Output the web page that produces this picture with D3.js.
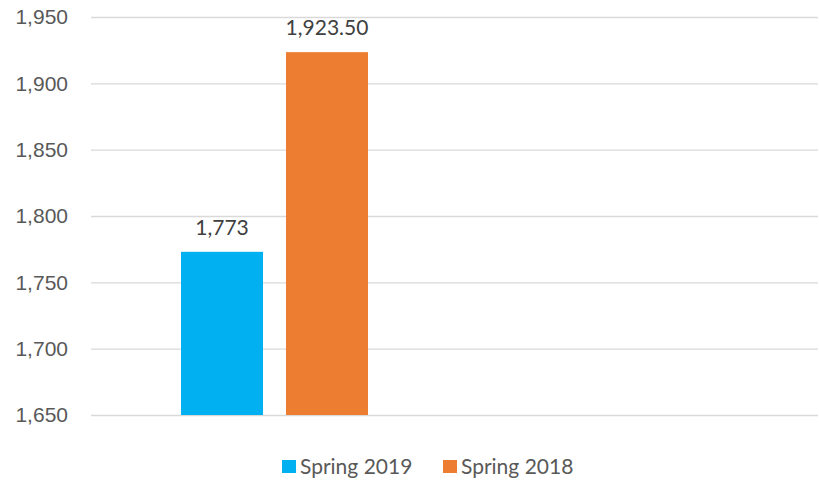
<!DOCTYPE html>
<html>
<head>
<meta charset="utf-8">
<script src="https://cdn.jsdelivr.net/npm/d3@7.9.0/dist/d3.min.js"></script>
<style>
  html, body { margin: 0; padding: 0; background: #fff; }
  svg { display: block; font-family: Lato, "Open Sans", sans-serif; }
</style>
</head>
<body>
<svg id="chart" width="819" height="484"></svg>
<script>
// ---- data ----
const categories = ['Term', ''];             // second slot is empty in the original
const seriesNames = ['Spring 2019', 'Spring 2018'];
const seriesColors = ['#00B0F0', '#ED7D31'];
const spring2019 = [1773, null];
const spring2018 = [1923.5, null];
const labelText = ['1,773', '1,923.50'];
const yTicks = [1650, 1700, 1750, 1800, 1850, 1900, 1950];

const width = 819, height = 484;
const margin = { top: 17, right: 1, bottom: 69, left: 91 };
const svg = d3.select('#chart');

const x0 = d3.scaleBand()
  .domain(categories)
  .range([margin.left, width - margin.right])
  .padding(0);

// bars group: 82px bars with a 23px gap, starting 90px into the band
const x1 = d3.scaleBand()
  .domain(seriesNames)
  .range([90, 90 + 187])
  .paddingInner(0.219)
  .paddingOuter(0);

const y = d3.scaleLinear()
  .domain([1650, 1950])
  .range([height - margin.bottom, margin.top]);

// gridlines
svg.append('g')
  .attr('class', 'grid')
  .attr('transform', `translate(${margin.left},0)`)
  .call(d3.axisLeft(y).tickValues(yTicks).tickFormat('').tickSize(-(width - margin.left - margin.right)))
  .call(g => g.select('.domain').remove())
  .call(g => g.selectAll('line').attr('stroke', '#d9d9d9').attr('stroke-width', 1.3));

// y labels
svg.append('g')
  .attr('class', 'y-axis')
  .attr('transform', `translate(${margin.left},0)`)
  .call(d3.axisLeft(y).tickValues(yTicks).tickFormat(d3.format(',')).tickSize(0).tickPadding(23))
  .call(g => g.select('.domain').remove())
  .call(g => g.selectAll('text')
    .attr('fill', '#595959')
    .style('font-size', '21px'));

// bars
const rows = categories.map((c, i) => ({
  cat: c,
  values: [
    { name: seriesNames[0], value: spring2019[i], label: labelText[0] },
    { name: seriesNames[1], value: spring2018[i], label: labelText[1] },
  ].filter(d => d.value != null),
}));

const color = d3.scaleOrdinal().domain(seriesNames).range(seriesColors);

const groups = svg.append('g').attr('class', 'bars')
  .selectAll('g')
  .data(rows)
  .join('g')
  .attr('transform', d => `translate(${x0(d.cat)},0)`);

groups.selectAll('rect')
  .data(d => d.values)
  .join('rect')
  .attr('x', d => x1(d.name))
  .attr('width', x1.bandwidth())
  .attr('y', d => y(d.value))
  .attr('height', d => y(1650) - y(d.value))
  .attr('fill', d => color(d.name));

groups.selectAll('text')
  .data(d => d.values)
  .join('text')
  .attr('x', d => x1(d.name) + x1.bandwidth() / 2)
  .attr('y', d => y(d.value) - 17)
  .attr('text-anchor', 'middle')
  .attr('fill', '#404040')
  .style('font-size', '21px')
  .text(d => d.label);

// legend
const legend = svg.append('g').attr('class', 'legend')
  .attr('transform', 'translate(282,460)');
const legendX = [0, 161];
const items = legend.selectAll('g')
  .data(seriesNames)
  .join('g')
  .attr('transform', (d, i) => `translate(${legendX[i]},0)`);
items.append('rect')
  .attr('width', 14).attr('height', 13)
  .attr('fill', d => color(d));
items.append('text')
  .attr('x', 18).attr('y', 13.5)
  .attr('fill', '#595959')
  .style('font-size', '21px')
  .text(d => d);
</script>
</body>
</html>
